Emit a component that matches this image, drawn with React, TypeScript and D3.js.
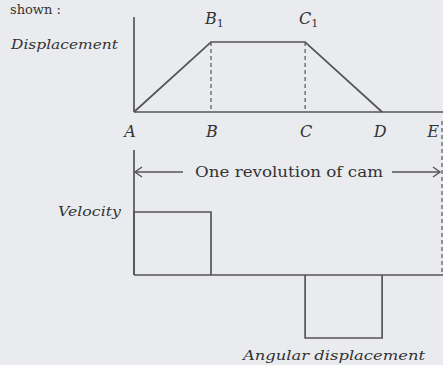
import React, { useEffect, useRef } from 'react';
import * as d3 from 'd3';

// cam angle (deg) of the points A..E over one revolution
const points = ['A', 'B', 'C', 'D', 'E'];
const angles = [0, 90, 200, 290, 360];
// displacement at each point (rise, dwell, return, dwell)
const displacement = [0, 1, 1, 0, 0];
// velocity on each interval A-B, B-C, C-D, D-E
const velocity = [1, 0, -1, 0];

const W = 443;
const H = 365;
const INK = '#555';

const CamDiagram = () => {
  const ref = useRef<SVGSVGElement>(null);

  useEffect(() => {
    const svg = d3.select(ref.current);
    svg.selectAll('*').remove();

    svg.append('rect').attr('width', W).attr('height', H).attr('fill', '#e9ebee');

    const x = d3.scaleLinear().domain([0, 360]).range([134, 442]);
    const yDisp = d3.scaleLinear().domain([0, 1]).range([112, 42]);
    const yVel = d3.scaleLinear().domain([-1, 1]).range([338, 212]);

    const serif = 'DejaVu Serif, serif';

    // leftover text from the page above
    svg.append('text').attr('x', 10).attr('y', 14)
      .attr('font-family', serif).attr('font-size', 13).attr('fill', '#333')
      .text('shown :');

    // ---- displacement diagram ----
    const top = svg.append('g').attr('stroke', INK).attr('fill', 'none').attr('stroke-width', 1.7);
    top.append('line').attr('x1', x(0)).attr('x2', x(0)).attr('y1', 17).attr('y2', yDisp(0));
    top.append('line').attr('x1', x(0)).attr('x2', W).attr('y1', yDisp(0)).attr('y2', yDisp(0));

    const disp = d3.line<number>()
      .x((_, i) => x(angles[i]))
      .y(d => yDisp(d));
    top.append('path').attr('d', disp(displacement.slice(0, 4)));

    // dashed drops from B1 and C1
    [1, 2].forEach(i => {
      top.append('line')
        .attr('x1', x(angles[i])).attr('x2', x(angles[i]))
        .attr('y1', yDisp(displacement[i])).attr('y2', yDisp(0))
        .attr('stroke-dasharray', '4,3').attr('stroke-width', 1.2);
    });

    // B1, C1
    [1, 2].forEach(i => {
      const t = svg.append('text')
        .attr('x', x(angles[i]) - 6).attr('y', 24)
        .attr('font-family', serif).attr('font-style', 'italic')
        .attr('font-size', 16).attr('fill', '#333');
      t.append('tspan').text(points[i]);
      t.append('tspan').attr('font-size', 11).attr('dy', 3).attr('font-style', 'normal').text('1');
    });

    svg.append('text').attr('x', 11).attr('y', 49)
      .attr('font-family', serif).attr('font-style', 'italic')
      .attr('font-size', 12).attr('fill', '#333')
      .attr('textLength', 107).attr('lengthAdjust', 'spacingAndGlyphs')
      .text('Displacement');

    // A..E labels
    svg.selectAll('.pt')
      .data(points)
      .join('text')
      .attr('class', 'pt')
      .attr('x', (d, i) => (i === 4 ? 439 : x(angles[i]) + (i === 0 ? -4 : i === 3 ? -2 : 1)))
      .attr('y', 137)
      .attr('text-anchor', (d, i) => (i === 4 ? 'end' : 'middle'))
      .attr('font-family', serif).attr('font-style', 'italic')
      .attr('font-size', 16).attr('fill', '#333')
      .text(d => d);

    // ---- one revolution arrow ----
    const ay = 172;
    const arr = svg.append('g').attr('stroke', INK).attr('fill', 'none').attr('stroke-width', 1.4);
    arr.append('line').attr('x1', x(0) + 1).attr('x2', 183).attr('y1', ay).attr('y2', ay);
    arr.append('path').attr('d', `M${x(0) + 8},${ay - 5}L${x(0) + 1},${ay}L${x(0) + 8},${ay + 5}`);
    arr.append('line').attr('x1', 392).attr('x2', x(360) - 2).attr('y1', ay).attr('y2', ay);
    arr.append('path').attr('d', `M${x(360) - 9},${ay - 5}L${x(360) - 2},${ay}L${x(360) - 9},${ay + 5}`);
    svg.append('text').attr('x', 195).attr('y', ay + 5)
      .attr('font-family', serif).attr('font-size', 15).attr('fill', '#333')
      .attr('textLength', 188).attr('lengthAdjust', 'spacingAndGlyphs')
      .text('One revolution of cam');

    // dashed end of revolution at E
    svg.append('line')
      .attr('x1', x(360)).attr('x2', x(360)).attr('y1', 121).attr('y2', yVel(0) - 2)
      .attr('stroke', INK).attr('stroke-width', 1.2).attr('stroke-dasharray', '4,3');

    // ---- velocity diagram ----
    const bot = svg.append('g').attr('stroke', INK).attr('fill', 'none').attr('stroke-width', 1.7);
    bot.append('line').attr('x1', x(0)).attr('x2', x(0)).attr('y1', 150).attr('y2', yVel(0));
    bot.append('line').attr('x1', x(0)).attr('x2', W).attr('y1', yVel(0)).attr('y2', yVel(0));

    velocity.forEach((v, i) => {
      if (v === 0) return;
      const x0 = x(angles[i]);
      const x1 = x(angles[i + 1]);
      const yv = yVel(v);
      const y0 = yVel(0);
      bot.append('path').attr('d', `M${x0},${y0}L${x0},${yv}L${x1},${yv}L${x1},${y0}`);
    });

    svg.append('text').attr('x', 58).attr('y', 216)
      .attr('font-family', serif).attr('font-style', 'italic')
      .attr('font-size', 12).attr('fill', '#333')
      .attr('textLength', 63).attr('lengthAdjust', 'spacingAndGlyphs')
      .text('Velocity');

    svg.append('text').attr('x', 243).attr('y', 360)
      .attr('font-family', serif).attr('font-style', 'italic')
      .attr('font-size', 13).attr('fill', '#333')
      .attr('textLength', 182).attr('lengthAdjust', 'spacingAndGlyphs')
      .text('Angular displacement');
  }, []);

  return <svg ref={ref} width={W} height={H} style={{ position: 'absolute', left: 0, top: 0 }}></svg>;
};

export default function App() {
  return <CamDiagram />;
}
